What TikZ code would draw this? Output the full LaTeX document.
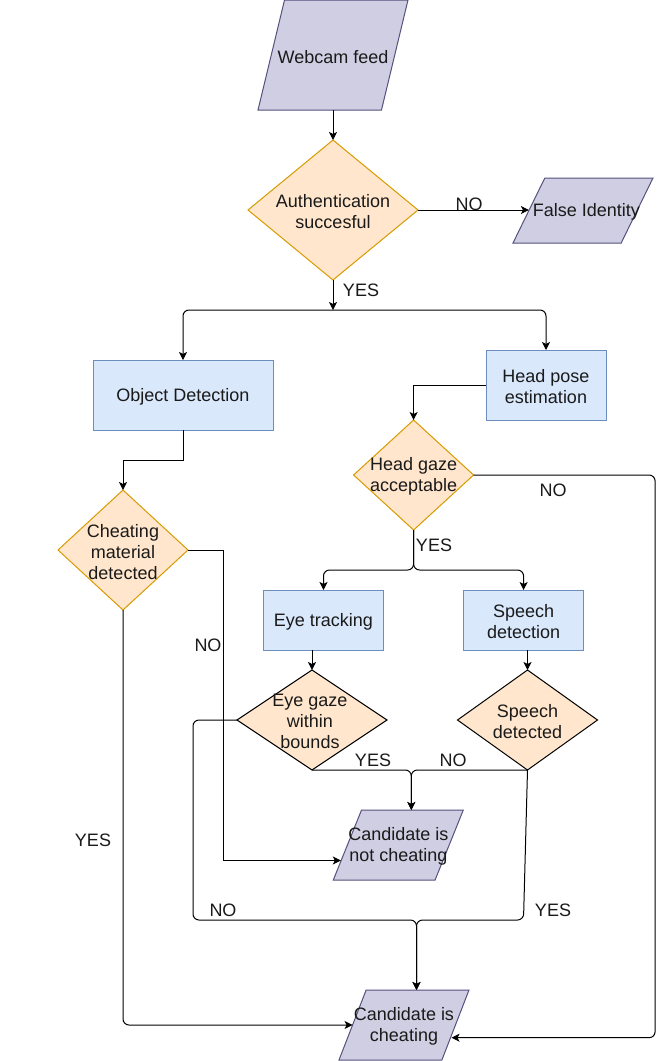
\documentclass[tikz,border=0pt]{standalone}
\usepackage{fontspec}
\setmainfont{Liberation Sans}
\usetikzlibrary{shapes.geometric,arrows.meta,calc}
\definecolor{parafill}{HTML}{D0CEE2}
\definecolor{paradraw}{HTML}{56517E}
\definecolor{decfill}{HTML}{FFE6CC}
\definecolor{decdraw}{HTML}{D79B00}
\definecolor{procfill}{HTML}{DAE8FC}
\definecolor{procdraw}{HTML}{6C8EBF}
\definecolor{txt}{HTML}{1A1A1A}
\begin{document}
\begin{tikzpicture}[x=0.75pt,y=-0.75pt,
  every node/.style={font=\fontsize{13.5}{15.75}\selectfont, text=txt},
  every label/.style={yshift=-1.2pt},
  base/.style={inner sep=0pt, outer sep=0pt, line width=0.75pt},
  para/.style={base, inner sep=1pt, trapezium, trapezium stretches=true, fill=parafill, draw=paradraw},
  dec/.style={base, diamond, fill=decfill, draw=decdraw},
  decb/.style={base, diamond, fill=decfill, draw=black},
  proc/.style={base, rectangle, fill=procfill, draw=procdraw},
  edge/.style={draw=black, line width=0.75pt, -{Stealth[length=6pt,width=6pt,inset=1.5pt]}},
  lbl/.style={inner sep=0pt}
]
\fill[white] (0,0) rectangle (662,1061);
\useasboundingbox (0,0) rectangle (662,1061);

% nodes
\node[para, trapezium left angle=74.7, trapezium right angle=105.3,
  minimum width=150*0.75pt, minimum height=110*0.75pt,
  label={[align=center]center:Webcam feed}] (web) at (333,55) {};
\node[dec, minimum width=170*0.75pt, minimum height=140*0.75pt,
  label={[align=center]center:Authentication\\succesful}] (auth) at (333,210) {};
\node[para, trapezium left angle=67.4, trapezium right angle=112.6,
  minimum width=140*0.75pt, minimum height=65*0.75pt,
  label={[align=center,xshift=2.5pt]center:False Identity}] (false) at (583,210.5) {};
\node[proc, minimum width=180*0.75pt, minimum height=70*0.75pt,
  label={[align=center]center:Object Detection}] (obj) at (183,395) {};
\node[proc, minimum width=120*0.75pt, minimum height=70*0.75pt,
  label={[align=center]center:Head pose\\estimation}] (head) at (546,385) {};
\node[dec, minimum width=120*0.75pt, minimum height=110*0.75pt,
  label={[align=center]center:Head gaze\\acceptable}] (hg) at (413.6,475) {};
\node[dec, minimum width=130*0.75pt, minimum height=120*0.75pt,
  label={[align=center]center:Cheating\\material\\detected}] (cm) at (123,550) {};
\node[proc, minimum width=120*0.75pt, minimum height=60*0.75pt,
  label={[align=center]center:Eye tracking}] (eye) at (323.5,620) {};
\node[proc, minimum width=120*0.75pt, minimum height=60*0.75pt,
  label={[align=center]center:Speech\\detection}] (sp) at (523.6,620) {};
\node[decb, minimum width=150*0.75pt, minimum height=100*0.75pt,
  label={[align=center,xshift=-1.5pt]center:Eye gaze\\within\\bounds}] (eg) at (312,720) {};
\node[decb, minimum width=140*0.75pt, minimum height=100*0.75pt,
  label={[align=center]center:Speech\\detected}] (sd) at (527.5,720) {};
\node[para, trapezium left angle=69, trapezium right angle=111,
  minimum width=130*0.75pt, minimum height=70*0.75pt,
  label={[align=center]center:Candidate is\\not cheating}] (cn) at (398.3,845) {};
\node[para, trapezium left angle=70.3, trapezium right angle=109.7,
  minimum width=130*0.75pt, minimum height=70*0.75pt,
  label={[align=center]center:Candidate is\\cheating}] (cc) at (404,1025) {};

% helper coordinates
\coordinate (split) at ($(auth.south)+(0,30)$);
\coordinate (cnT) at ($(cn.north)+(13,0)$);
\coordinate (cnL) at ($(cn.center)+(-57.5,15.5)$);
\coordinate (ccT) at ($(cc.north)+(12.5,0)$);
\coordinate (ccR) at ($(cc.center)+(47.5,12.7)$);

% connectors
\draw[edge] (web.south) -- (auth.north);
\draw[edge] (auth.east) -- (auth.east -| false.west);
\draw[edge] (auth.south) -- (split);
\draw[edge, rounded corners=4.5pt] (split) -| (obj.north);
\draw[edge, rounded corners=4.5pt] (split) -| (head.north);
\draw[edge] (obj.south) -- ++(0,30) -| (cm.north);
\draw[edge] (head.west) -| (hg.north);
\draw[edge, rounded corners=4.5pt] (hg.east) -- ++(181.5,0) |- (ccR);
\draw[edge] (cm.east) -- ++(35.4,0) |- (cnL);
\draw[edge, rounded corners=4.5pt] (cm.south) |- (cc.west);
\draw[edge, rounded corners=4.5pt] (hg.south) -- ++(0,40) -| (eye.north);
\draw[edge, rounded corners=4.5pt] (hg.south) -- ++(0,40) -| (sp.north);
\draw[edge] (eye.south -| eg.north) -- (eg.north);
\draw[edge] (sp.south -| sd.north) -- (sd.north);
\draw[edge, rounded corners=4.5pt] (eg.south) -| (cnT);
\draw[edge, rounded corners=4.5pt] (sd.south) -| (cnT);
\draw[edge, rounded corners=4.5pt] (eg.west) -- ++(-44,0) -- ++(0,200) -| (ccT);
\draw[edge, rounded corners=4.5pt] (sd.south) -- ++(-4,150) -| (ccT);

% labels
\node[lbl] (l1) at (469,204) {NO};
\node[lbl] (l2) at (361,290) {YES};
\node[lbl] (l3) at (553,490) {NO};
\node[lbl] (l4) at (434,545) {YES};
\node[lbl] (l5) at (208,645) {NO};
\node[lbl] (l6) at (373,760) {YES};
\node[lbl] (l7) at (453,760) {NO};
\node[lbl] (l8) at (223,910) {NO};
\node[lbl] (l9) at (553,910) {YES};
\node[lbl] (l10) at (93,840) {YES};
\end{tikzpicture}
\end{document}
